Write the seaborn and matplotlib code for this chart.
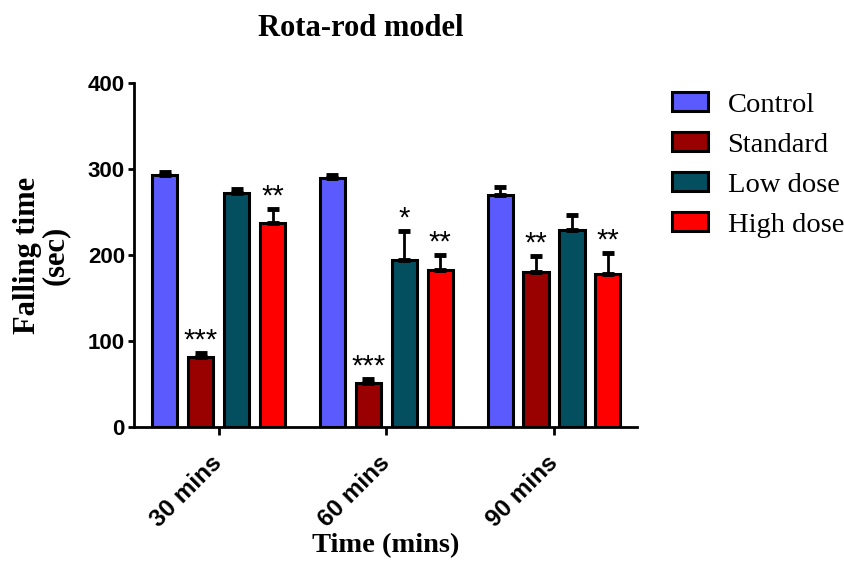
import matplotlib
matplotlib.use('Agg')
import matplotlib.pyplot as plt
import matplotlib.transforms as mtransforms
import pandas as pd
import seaborn as sns

times = ['30 mins', '60 mins', '90 mins']
groups = ['Control', 'Standard', 'Low dose', 'High dose']
control = [293, 289, 270]
standard = [82, 51, 180]
low_dose = [272, 194, 229]
high_dose = [237, 183, 178]
control_sem = [4, 4, 9]
standard_sem = [4, 5, 19]
low_dose_sem = [5, 34, 18]
high_dose_sem = [17, 17, 24]
stars_standard = ['***', '***', '**']
stars_low = ['', '*', '']
stars_high = ['**', '**', '**']

colors = ['#5a5aff', '#990000', '#034f60', '#ff0000']

df = pd.DataFrame({
    'Time': times * 4,
    'Group': [g for g in groups for _ in times],
    'Falling': control + standard + low_dose + high_dose,
})
sems = [control_sem, standard_sem, low_dose_sem, high_dose_sem]
stars = [['', '', ''], stars_standard, stars_low, stars_high]

sns.set_style('ticks')
plt.rcParams['text.color'] = 'black'
plt.rcParams['axes.labelcolor'] = 'black'
plt.rcParams['xtick.color'] = 'black'
plt.rcParams['ytick.color'] = 'black'
plt.rcParams['axes.edgecolor'] = 'black'

fig = plt.figure(figsize=(8.44, 5.65), dpi=100)
ax = fig.add_axes([0.1588, 0.2442, 0.5959, 0.6089])

sns.barplot(data=df, x='Time', y='Falling', hue='Group', order=times,
            hue_order=groups, palette=colors, errorbar=None,
            width=0.857, gap=0.3, edgecolor='black', linewidth=2.2,
            saturation=1, ax=ax)

bar_conts = list(ax.containers)
for i, cont in enumerate(bar_conts):
    xs = [p.get_x() + p.get_width() / 2 for p in cont.patches]
    hs = [p.get_height() for p in cont.patches]
    ax.errorbar(xs, hs, yerr=[[0] * len(hs), sems[i]], fmt='none',
                ecolor='black', elinewidth=2, capsize=4.5, capthick=3.5,
                zorder=1)
    for x, h, e, s in zip(xs, hs, sems[i], stars[i]):
        if s:
            ax.text(x, h + e + 5, s, ha='center', va='baseline',
                    fontsize=21, family='Liberation Sans')

ax.set_ylim(0, 400)
ax.set_xlim(-0.505, 2.495)
ax.set_yticks([0, 100, 200, 300, 400])
sns.despine(ax=ax)
for sp in ['left', 'bottom']:
    ax.spines[sp].set_linewidth(2)
ax.tick_params(axis='y', width=2, length=4.5, pad=2)
ax.tick_params(axis='x', width=2, length=6, pad=6)
for lab in ax.get_yticklabels():
    lab.set_fontfamily('Liberation Sans')
    lab.set_fontweight('bold')
    lab.set_fontsize(16)
ax.set_xticks(range(len(times)))
ax.set_xticklabels(times, rotation=45, ha='right', rotation_mode='anchor',
                   fontfamily='Liberation Sans', fontweight='bold', fontsize=17.5)
shift = mtransforms.ScaledTranslation(-8 / 100, -8 / 100, fig.dpi_scale_trans)
for lab in ax.get_xticklabels():
    lab.set_transform(lab.get_transform() + shift)

ax.set_ylabel('Falling time\n(sec)', fontfamily='Liberation Serif',
              fontweight='bold', fontsize=22, linespacing=0.95, labelpad=13)
ax.set_xlabel('Time (mins)', fontfamily='Liberation Serif',
              fontweight='bold', fontsize=20.5, labelpad=1)
fig.text(361 / 844, 1 - 28 / 565, 'Rota-rod model', ha='center', va='center',
         fontfamily='Liberation Serif', fontweight='bold', fontsize=22)

ax.legend_.remove()
handles = [plt.Rectangle((0, 0), 1, 1, facecolor=c, edgecolor='black',
                         linewidth=2.2) for c in colors]
fig.legend(handles, groups, loc='upper left', bbox_to_anchor=(672 / 844, 1 - 92 / 565),
           frameon=False, prop={'family': 'Liberation Serif', 'size': 20.5},
           handlelength=1.25, handleheight=0.65, labelspacing=0.51,
           handletextpad=0.7, borderpad=0, borderaxespad=0)

fig.savefig('out.png', dpi=100)
